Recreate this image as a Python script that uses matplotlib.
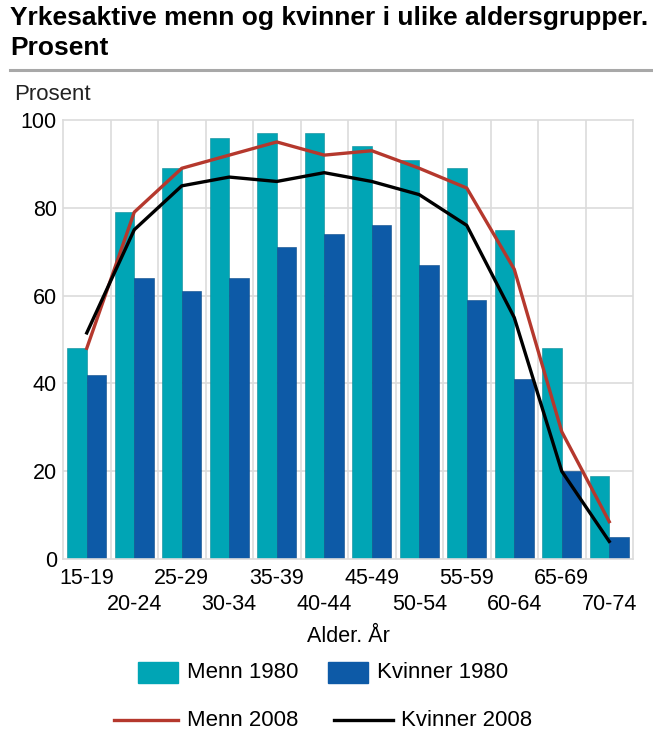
import numpy as np
import matplotlib.pyplot as plt
from matplotlib.patches import Rectangle
from matplotlib.lines import Line2D

plt.rcParams['font.family'] = ['Liberation Sans', 'DejaVu Sans']

# Yrkesaktive etter aldersgruppe, prosent
aldersgrupper = ["15-19", "20-24", "25-29", "30-34", "35-39", "40-44",
                 "45-49", "50-54", "55-59", "60-64", "65-69", "70-74"]
menn_1980 = [48, 79, 89, 96, 97, 97, 94, 91, 89, 75, 48, 19]
kvinner_1980 = [42, 64, 61, 64, 71, 74, 76, 67, 59, 41, 20, 5]
menn_2008 = [48, 79, 89, 92, 95, 92, 93, 89, 84.5, 66, 29, 8.5]
kvinner_2008 = [51.5, 75, 85, 87, 86, 88, 86, 83, 76, 55, 20, 4]

cyan = "#00a5b5"
blue = "#0d5aa7"
red = "#b5382d"
grid_col = "#dcdcdc"
fs = 15.5

W, H = 653, 738
fig = plt.figure(figsize=(W / 100, H / 100), dpi=100)

def fx(px):
    return px / W

def fy(py):
    return 1 - py / H

# tittel og skillelinje
fig.text(fx(10), fy(6), "Yrkesaktive menn og kvinner i ulike aldersgrupper.\nProsent",
         fontsize=19, fontweight="bold", va="top", ha="left", linespacing=1.3)
fig.add_artist(Line2D([fx(10), fx(653)], [fy(70), fy(70)], color="#a8a8a8", lw=2.2))
fig.text(fx(14), fy(94), "Prosent", fontsize=16, va="center", ha="left", color="#222222")

ax = fig.add_axes([fx(63), fy(559), fx(633) - fx(63), fy(120) - fy(559)])
x = np.arange(len(aldersgrupper))
bw = 0.41

ax.bar(x - bw / 2, menn_1980, width=bw, color=cyan, edgecolor="#0a8a97", lw=0.4, zorder=2)
ax.bar(x + bw / 2, kvinner_1980, width=bw, color=blue, edgecolor="#0a4a8a", lw=0.4, zorder=2)
ax.plot(x, menn_2008, color=red, lw=2.4, zorder=3)
ax.plot(x, kvinner_2008, color="black", lw=2.4, zorder=3)

ax.set_xlim(-0.5, len(aldersgrupper) - 0.5)
ax.set_ylim(0, 100)

# rutenett
for b in np.arange(0.5, len(aldersgrupper) - 0.5, 1):
    ax.axvline(b, color=grid_col, lw=1.2, zorder=1)
for v in range(20, 100, 20):
    ax.axhline(v, color=grid_col, lw=1.2, zorder=1)
for s in ax.spines.values():
    s.set_color(grid_col)
    s.set_linewidth(1.2)

ax.set_yticks(range(0, 101, 20))
ax.tick_params(axis="y", length=0, pad=4.5, labelsize=fs)

# annenhver etikett på to rader
ax.set_xticks(x[::2], aldersgrupper[::2])
ax.set_xticks(x[1::2], aldersgrupper[1::2], minor=True)
ax.tick_params(axis="x", which="major", length=0, pad=6.5, labelsize=fs)
ax.tick_params(axis="x", which="minor", length=0, pad=25, labelsize=fs)

fig.text(fx(348), fy(637), "Alder. År", fontsize=fs, ha="center", va="center")

# forklaring
fig.add_artist(Rectangle((fx(138), fy(683)), fx(40), fy(662) - fy(683), color=cyan))
fig.text(fx(187), fy(673), "Menn 1980", fontsize=16, va="center")
fig.add_artist(Rectangle((fx(328), fy(683)), fx(40), fy(662) - fy(683), color=blue))
fig.text(fx(377), fy(673), "Kvinner 1980", fontsize=16, va="center")
fig.add_artist(Line2D([fx(114), fx(178)], [fy(720), fy(720)], color=red, lw=2.4))
fig.text(fx(187), fy(720), "Menn 2008", fontsize=16, va="center")
fig.add_artist(Line2D([fx(334), fx(393)], [fy(720), fy(720)], color="black", lw=2.4))
fig.text(fx(401), fy(720), "Kvinner 2008", fontsize=16, va="center")

fig.savefig("out.png", dpi=100)
